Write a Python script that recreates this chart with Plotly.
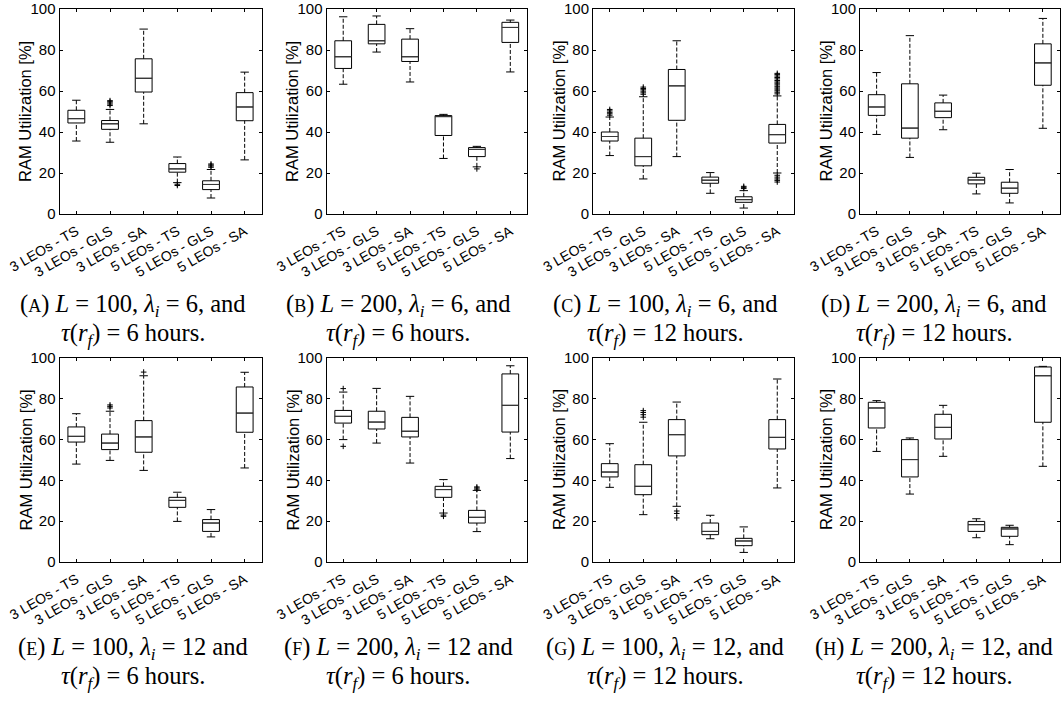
import plotly.graph_objects as go

# ---------------- data ----------------
labels = ["3 LEOs - TS", "3 LEOs - GLS", "3 LEOs - SA",
          "5 LEOs - TS", "5 LEOs - GLS", "5 LEOs - SA"]
positions = [1, 2, 3, 4, 5, 6]
y_ticks = [0, 20, 40, 60, 80, 100]
y_title = "RAM Utilization [%]"

# (A) L=100, lambda=6, tau=6
a_low = [35.6, 35.0, 44.0, 15.3, 7.8, 26.4]
a_q1 = [44.4, 41.3, 59.5, 20.4, 11.9, 45.5]
a_med = [46.5, 44.0, 66.2, 22.0, 14.4, 52.2]
a_q3 = [50.6, 45.6, 75.7, 24.6, 16.2, 59.2]
a_high = [55.5, 51.0, 90.2, 27.8, 21.7, 69.2]
a_out = [[], [52.9, 53.6, 54.2, 54.8, 55.3], [], [13.9, 14.5], [22.8, 23.4, 23.9, 24.4], []]

# (B) L=200, lambda=6, tau=6
b_low = [63.3, 79.0, 64.4, 27.1, 23.0, 69.3]
b_q1 = [71.0, 83.0, 74.4, 38.3, 28.0, 83.7]
b_med = [76.7, 84.5, 76.7, 47.5, 31.5, 91.0]
b_q3 = [84.5, 92.5, 85.3, 48.0, 32.4, 93.5]
b_high = [96.2, 96.6, 90.4, 48.6, 33.0, 94.6]
b_out = [[], [], [], [], [22.0], []]

# (C) L=100, lambda=6, tau=12
c_low = [28.5, 17.1, 28.0, 10.1, 2.9, 20.0]
c_q1 = [35.6, 23.5, 45.7, 15.0, 5.7, 34.6]
c_med = [37.8, 28.0, 62.5, 16.5, 7.0, 38.7]
c_q3 = [40.0, 37.0, 70.5, 18.0, 8.4, 43.7]
c_high = [47.3, 57.2, 84.5, 20.2, 11.4, 57.6]
c_out = [[48.2, 48.9, 49.6, 50.3, 51.0],
         [58.4, 59.1, 59.9, 60.6, 61.2, 61.9],
         [],
         [],
         [12.4, 13.0, 13.5],
         [58.6, 59.4, 60.1, 60.9, 61.5, 62.3, 63.0, 63.8, 64.4, 65.1, 65.9, 66.6, 67.3, 68.0, 68.6,
          15.6, 16.4, 17.1, 18.0, 18.9]]

# (D) L=200, lambda=6, tau=12
d_low = [38.8, 27.6, 41.1, 9.8, 5.4, 41.8]
d_q1 = [48.1, 37.0, 47.0, 14.7, 10.1, 62.8]
d_med = [52.2, 41.9, 50.1, 16.6, 12.6, 73.7]
d_q3 = [58.2, 63.5, 54.2, 17.9, 15.5, 83.0]
d_high = [69.0, 87.0, 58.0, 19.9, 21.7, 95.4]
d_out = [[], [], [], [], [], []]

# (E) L=100, lambda=12, tau=6
e_low = [48.0, 49.8, 44.9, 19.9, 12.3, 46.1]
e_q1 = [58.8, 55.1, 53.8, 26.8, 15.0, 63.6]
e_med = [61.6, 58.3, 61.3, 30.2, 19.1, 73.0]
e_q3 = [66.2, 62.7, 69.3, 31.7, 20.8, 85.8]
e_high = [72.7, 73.9, 91.3, 34.2, 25.7, 93.0]
e_out = [[], [75.5, 76.3, 77.0], [93.1], [], [], []]

# (F) L=200, lambda=12, tau=6
f_low = [60.0, 58.3, 48.5, 24.0, 14.9, 50.7]
f_q1 = [68.1, 65.2, 61.3, 31.7, 19.1, 63.7]
f_med = [71.4, 68.6, 64.1, 35.5, 21.9, 76.8]
f_q3 = [74.3, 73.9, 70.9, 37.1, 25.3, 92.2]
f_high = [83.3, 85.1, 81.2, 40.4, 35.1, 96.2]
f_out = [[85.0, 56.7], [], [], [22.4, 23.0], [35.7, 36.3, 36.8], []]

# (G) L=100, lambda=12, tau=12
g_low = [36.6, 23.2, 27.3, 11.4, 4.7, 36.3]
g_q1 = [41.7, 33.0, 52.0, 13.4, 8.0, 55.4]
g_med = [44.1, 37.1, 62.4, 15.0, 10.3, 61.1]
g_q3 = [48.2, 47.7, 69.8, 19.1, 11.6, 69.8]
g_high = [58.0, 68.5, 78.4, 22.9, 17.2, 89.7]
g_out = [[], [71.0, 72.2, 73.3, 74.2], [21.6, 23.8, 25.0], [], [], []]

# (H) L=200, lambda=12, tau=12
h_low = [54.2, 33.3, 51.8, 11.9, 8.5, 46.9]
h_q1 = [65.7, 41.7, 60.3, 15.0, 12.6, 68.5]
h_med = [75.5, 50.2, 66.0, 18.3, 16.2, 91.3]
h_q3 = [78.3, 60.0, 72.4, 19.9, 17.0, 95.6]
h_high = [79.1, 60.8, 76.8, 21.2, 18.0, 95.9]
h_out = [[], [], [], [], [], []]

# caption pieces: letter, L, lambda_i, comma before "and", tau(r_f)
captions = [
    ("A", "100", "6", ",", "6"),
    ("B", "200", "6", ",", "6"),
    ("C", "100", "6", ",", "12"),
    ("D", "200", "6", ",", "12"),
    ("E", "100", "12", "", "6"),
    ("F", "200", "12", "", "6"),
    ("G", "100", "12", ",", "12"),
    ("H", "200", "12", ",", "12"),
]

panels = [
    (a_low, a_q1, a_med, a_q3, a_high, a_out),
    (b_low, b_q1, b_med, b_q3, b_high, b_out),
    (c_low, c_q1, c_med, c_q3, c_high, c_out),
    (d_low, d_q1, d_med, d_q3, d_high, d_out),
    (e_low, e_q1, e_med, e_q3, e_high, e_out),
    (f_low, f_q1, f_med, f_q3, f_high, f_out),
    (g_low, g_q1, g_med, g_q3, g_high, g_out),
    (h_low, h_q1, h_med, h_q3, h_high, h_out),
]

# ---------------- layout geometry ----------------
W, H = 1061, 702
col_px = [(59.5, 261.5), (326.5, 527.0), (593.0, 794.0), (860.0, 1059.5)]
row_px = [(9.0, 214.0), (358.0, 562.0)]
cap_centers = [133, 398, 665, 934]
cap_lines = [(305, 334), (648, 677)]

BOX_W = 0.5
CAP_W = 0.25
SANS = "Liberation Sans, Arial, sans-serif"
YTICK_FONT = dict(family=SANS, size=15, color="black")
XTICK_FONT = dict(family=SANS, size=14, color="black")
TITLE_FONT = dict(family=SANS, size=16.5, color="black")
CAP_FONT = dict(family="Liberation Serif, Times New Roman, serif", size=24.5, color="black")

fig = go.Figure()
layout = dict(width=W, height=H, margin=dict(l=0, r=0, t=0, b=0),
              paper_bgcolor="white", plot_bgcolor="white", showlegend=False,
              template="none", annotations=[])

for k, (low, q1, med, q3, high, out) in enumerate(panels):
    r, c = divmod(k, 4)
    sfx = "" if k == 0 else str(k + 1)
    xa, ya = "x" + sfx, "y" + sfx

    # dashed whiskers
    wx, wy = [], []
    for p, lo_, a, b, hi_ in zip(positions, low, q1, q3, high):
        wx += [p, p, None, p, p, None]
        wy += [lo_, a, None, b, hi_, None]
    fig.add_trace(go.Scatter(x=wx, y=wy, mode="lines", xaxis=xa, yaxis=ya,
                             line=dict(color="black", width=1, dash="4px,2px"),
                             hoverinfo="skip"))
    # whisker caps
    cx, cy = [], []
    for p, lo_, hi_ in zip(positions, low, high):
        cx += [p - CAP_W / 2, p + CAP_W / 2, None, p - CAP_W / 2, p + CAP_W / 2, None]
        cy += [lo_, lo_, None, hi_, hi_, None]
    fig.add_trace(go.Scatter(x=cx, y=cy, mode="lines", xaxis=xa, yaxis=ya,
                             line=dict(color="black", width=1), hoverinfo="skip"))
    # boxes (whiskers drawn separately, dashed)
    fig.add_trace(go.Box(x=positions, q1=q1, median=med, q3=q3,
                         lowerfence=q1, upperfence=q3, width=BOX_W, whiskerwidth=0,
                         fillcolor="white", line=dict(color="black", width=1),
                         xaxis=xa, yaxis=ya, boxpoints=False, hoverinfo="skip"))
    # medians in dark grey on top
    mx, my = [], []
    for p, m in zip(positions, med):
        mx += [p - BOX_W / 2, p + BOX_W / 2, None]
        my += [m, m, None]
    fig.add_trace(go.Scatter(x=mx, y=my, mode="lines", xaxis=xa, yaxis=ya,
                             line=dict(color="#3a3a3a", width=1), hoverinfo="skip"))
    # outliers
    ox, oy = [], []
    for p, vals in zip(positions, out):
        for v in vals:
            ox.append(p)
            oy.append(v)
    if ox:
        fig.add_trace(go.Scatter(x=ox, y=oy, mode="markers", xaxis=xa, yaxis=ya,
                                 marker=dict(symbol="cross-thin", size=4, color="black",
                                             line=dict(color="black", width=1)),
                                 hoverinfo="skip"))

    x0, x1 = col_px[c]
    y0, y1 = row_px[r]
    common = dict(showline=True, linecolor="black", linewidth=1, mirror="ticks",
                  ticks="inside", ticklen=3, tickcolor="black", tickwidth=1,
                  showgrid=False, zeroline=False, automargin=False)
    layout["xaxis" + sfx] = dict(common, domain=[x0 / W, x1 / W], anchor=ya,
                                 range=[0.5, 6.5], tickmode="array",
                                 tickvals=positions, ticktext=labels, tickangle=-30,
                                 tickfont=XTICK_FONT, ticklabelstandoff=3)
    layout["yaxis" + sfx] = dict(common, domain=[1 - y1 / H, 1 - y0 / H], anchor=xa,
                                 range=[0, 100], tickmode="array", tickvals=y_ticks,
                                 tickfont=YTICK_FONT)
    # y-axis title
    layout["annotations"].append(dict(text=y_title, x=(x0 - 34) / W, y=1 - (y0 + y1) / 2 / H,
                                      xref="paper", yref="paper", showarrow=False,
                                      textangle=-90, xanchor="center", yanchor="middle",
                                      font=TITLE_FONT))

    letter, L, lam, comma, tau = captions[k]
    line1 = (f"(<span style='font-size:18px'>{letter}</span>) <i>L</i> = {L}, "
             f"<i>λ<sub>i</sub></i> = {lam}{comma} and")
    line2 = f"<i>τ</i>(<i>r<sub>f</sub></i>) = {tau} hours."
    for txt, yy in zip((line1, line2), cap_lines[r]):
        layout["annotations"].append(dict(text=txt, x=cap_centers[c] / W, y=1 - yy / H,
                                          xref="paper", yref="paper", showarrow=False,
                                          xanchor="center", yanchor="middle",
                                          font=CAP_FONT))

fig.update_layout(**layout)
fig.write_html("out.html", config={"displayModeBar": False},
               post_script="document.body.style.margin='0px';")
